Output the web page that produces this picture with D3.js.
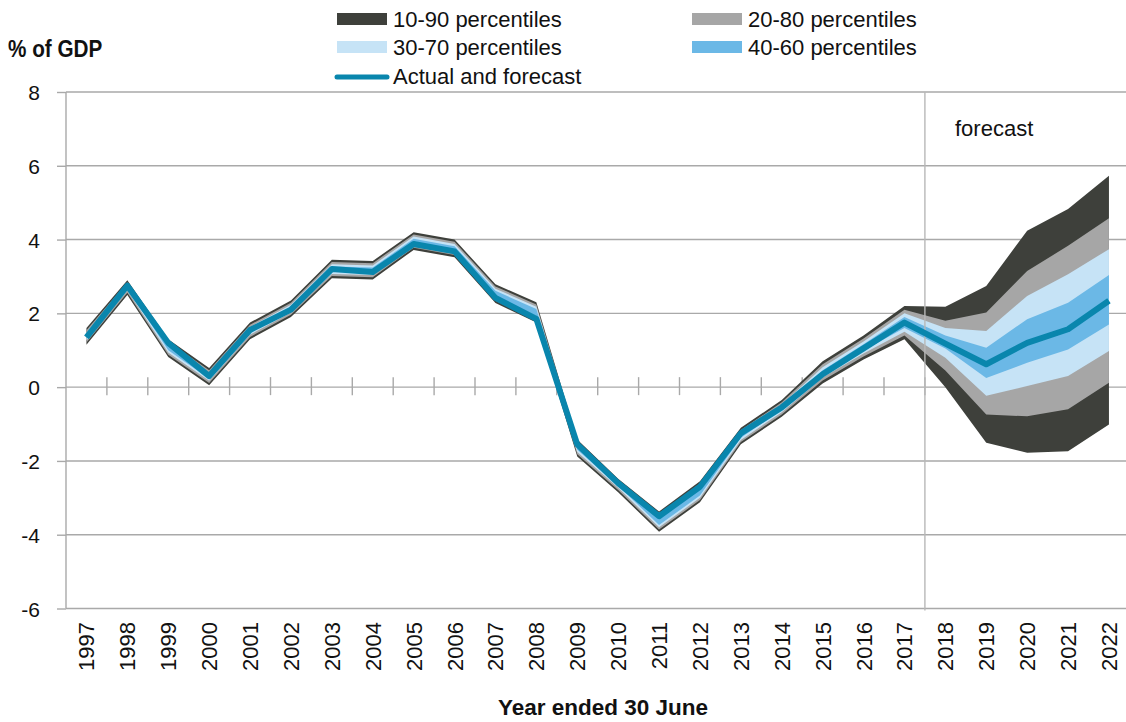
<!DOCTYPE html>
<html>
<head>
<meta charset="utf-8">
<script src="https://cdn.jsdelivr.net/npm/d3@7"></script>
<style>
  body { margin: 0; background: #fff; }
  svg { display: block; font-family: "Liberation Sans", Arial, sans-serif; }
</style>
</head>
<body>
<svg id="chart" width="1126" height="722"></svg>
<script>
const years = ["1997","1998","1999","2000","2001","2002","2003","2004","2005","2006","2007","2008","2009","2010","2011","2012","2013","2014","2015","2016","2017","2018","2019","2020","2021","2022"];
const actual = [1.35,2.75,1.2,0.3,1.55,2.1,3.2,3.12,3.88,3.68,2.42,1.85,-1.55,-2.6,-3.5,-2.7,-1.25,-0.55,0.35,1.05,1.75,1.18,0.62,1.2,1.57,2.34];
const p90 = [1.6,2.9,1.3,0.52,1.75,2.35,3.45,3.42,4.2,4.0,2.79,2.3,-1.42,-2.48,-3.37,-2.55,-1.1,-0.35,0.7,1.4,2.2,2.18,2.74,4.24,4.83,5.73];
const p80 = [1.54,2.84,1.24,0.46,1.69,2.29,3.39,3.36,4.14,3.94,2.73,2.24,-1.48,-2.54,-3.43,-2.61,-1.16,-0.41,0.62,1.32,2.1,1.8,2.02,3.15,3.83,4.58];
const p70 = [1.48,2.78,1.18,0.4,1.63,2.23,3.33,3.3,4.08,3.88,2.67,2.18,-1.54,-2.6,-3.49,-2.67,-1.22,-0.47,0.54,1.24,2.0,1.6,1.52,2.47,3.06,3.74];
const p60 = [1.42,2.72,1.12,0.34,1.57,2.17,3.27,3.24,4.02,3.82,2.61,2.12,-1.6,-2.66,-3.55,-2.73,-1.28,-0.53,0.46,1.16,1.9,1.4,1.07,1.84,2.29,3.04];
const p40 = [1.33,2.68,1.0,0.23,1.48,2.08,3.13,3.1,3.9,3.7,2.46,1.93,-1.7,-2.67,-3.74,-2.94,-1.37,-0.62,0.34,0.99,1.6,1.05,0.25,0.66,1.02,1.7];
const p30 = [1.27,2.62,0.94,0.17,1.42,2.02,3.07,3.04,3.84,3.64,2.4,1.87,-1.76,-2.73,-3.8,-3.0,-1.43,-0.68,0.26,0.91,1.5,0.8,-0.23,0.03,0.3,0.98];
const p20 = [1.21,2.56,0.88,0.11,1.36,1.96,3.01,2.98,3.78,3.58,2.34,1.81,-1.82,-2.79,-3.86,-3.06,-1.49,-0.74,0.18,0.83,1.4,0.45,-0.74,-0.79,-0.6,0.12];
const p10 = [1.15,2.5,0.82,0.05,1.3,1.9,2.95,2.92,3.72,3.52,2.28,1.75,-1.88,-2.85,-3.92,-3.12,-1.55,-0.8,0.1,0.75,1.3,0.0,-1.51,-1.78,-1.74,-1.01];
const yTicks = [-6,-4,-2,0,2,4,6,8];
const forecastStart = "2018";

const bands = [
  { name: "10-90 percentiles", lo: p10, hi: p90, color: "#3e403b" },
  { name: "20-80 percentiles", lo: p20, hi: p80, color: "#a6a6a6" },
  { name: "30-70 percentiles", lo: p30, hi: p70, color: "#c6e3f6" },
  { name: "40-60 percentiles", lo: p40, hi: p60, color: "#6bb8e6" }
];
const lineColor = "#0986ad";
const gridColor = "#a9a9a9";

const svg = d3.select("#chart");
const plotLeft = 66, plotTop = 92, plotBottom = 608.5, plotRight = 1126;
const x = d3.scaleBand().domain(years).range([plotLeft, plotLeft + 26 * 40.9]).padding(0);
const cx = d => x(d) + x.bandwidth() / 2;
const y = d3.scaleLinear().domain([-6, 8]).range([plotBottom, plotTop]);

// gridlines
svg.append("g").selectAll("line").data(yTicks).join("line")
  .attr("x1", plotLeft).attr("x2", plotRight)
  .attr("y1", d => y(d)).attr("y2", d => y(d))
  .attr("stroke", gridColor).attr("stroke-width", 1.4);

// y axis
const yAxis = svg.append("g").attr("transform", `translate(${plotLeft},0)`)
  .call(d3.axisLeft(y).tickValues(yTicks).tickSize(9).tickPadding(17).tickFormat(d => String(d)));
yAxis.select(".domain").attr("stroke", gridColor).attr("stroke-width", 1.4).attr("d", `M0,${plotTop}V${plotBottom}`);
yAxis.selectAll(".tick line").attr("stroke", gridColor).attr("stroke-width", 1.4);
yAxis.selectAll(".tick text").attr("font-size", 21).attr("fill", "#111")
  .attr("font-family", "'Liberation Sans', Arial, sans-serif").attr("dy", "0.36em");

// x tick marks at category boundaries on zero line
const y0 = y(0);
svg.append("g").selectAll("line").data(years.slice(1)).join("line")
  .attr("x1", d => x(d)).attr("x2", d => x(d))
  .attr("y1", y0 - 10).attr("y2", y0 + 8)
  .attr("stroke", gridColor).attr("stroke-width", 1.4);

// bands
const idx = d3.range(years.length);
bands.forEach(b => {
  const area = d3.area()
    .x(i => cx(years[i]))
    .y0(i => y(b.lo[i]))
    .y1(i => y(b.hi[i]));
  svg.append("path").datum(idx).attr("d", area).attr("fill", b.color);
});

// forecast divider
const fx = x(forecastStart);
svg.append("line").attr("x1", fx).attr("x2", fx).attr("y1", plotTop).attr("y2", plotBottom + 2)
  .attr("stroke", "#b8b8b8").attr("stroke-width", 1.4);
svg.append("text").attr("x", 955).attr("y", 136).attr("font-size", 22).attr("fill", "#111").text("forecast");

// actual line
const line = d3.line().x(i => cx(years[i])).y(i => y(actual[i]));
svg.append("path").datum(idx).attr("d", line).attr("fill", "none")
  .attr("stroke", lineColor).attr("stroke-width", 6).attr("stroke-linejoin", "round");

// x tick labels
svg.append("g").selectAll("text").data(years).join("text")
  .attr("transform", d => `translate(${cx(d) + 8},622) rotate(-90)`)
  .attr("text-anchor", "end").attr("font-size", 22).attr("fill", "#111").text(d => d);

// axis titles
svg.append("text").attr("transform", "translate(8,57) scale(0.9,1)").attr("font-size", 23).attr("font-weight", "bold")
  .attr("fill", "#111").text("% of GDP");
svg.append("text").attr("transform", "translate(603,715)").attr("text-anchor", "middle")
  .attr("font-size", 22.5).attr("font-weight", "bold").attr("fill", "#111").text("Year ended 30 June");

// legend
const legendItems = [
  { name: bands[0].name, color: bands[0].color, sx: 337, tx: 393, base: 27 },
  { name: bands[1].name, color: bands[1].color, sx: 692, tx: 748, base: 27 },
  { name: bands[2].name, color: bands[2].color, sx: 337, tx: 393, base: 55 },
  { name: bands[3].name, color: bands[3].color, sx: 692, tx: 748, base: 55 }
];
const lg = svg.append("g");
legendItems.forEach(it => {
  lg.append("rect").attr("x", it.sx).attr("y", it.base - 14).attr("width", 50).attr("height", 12).attr("fill", it.color);
  lg.append("text").attr("x", it.tx).attr("y", it.base).attr("font-size", 22).attr("fill", "#111").text(it.name);
});
lg.append("line").attr("x1", 337).attr("x2", 387).attr("y1", 77).attr("y2", 77)
  .attr("stroke", lineColor).attr("stroke-width", 5).attr("stroke-linecap", "round");
lg.append("text").attr("x", 393).attr("y", 84).attr("font-size", 22).attr("fill", "#111").text("Actual and forecast");
</script>
</body>
</html>
